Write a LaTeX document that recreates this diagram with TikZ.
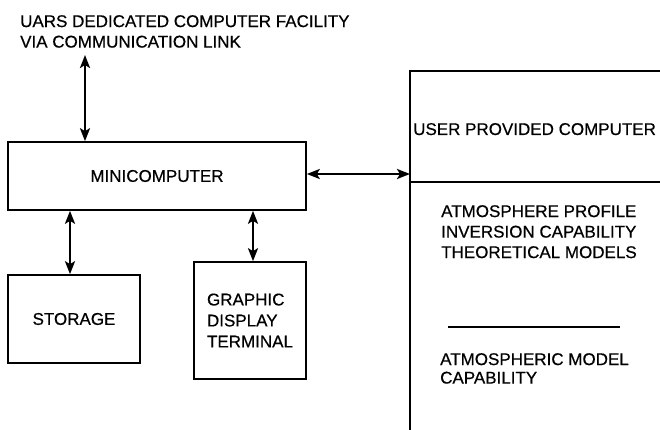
\documentclass[tikz,border=0pt]{standalone}
\usepackage{fontspec}
\setmainfont{Liberation Sans}[FakeBold=0.5]
\usetikzlibrary{arrows.meta}
\begin{document}
\begin{tikzpicture}[x=1pt,y=-1pt,
  box/.style={draw,line width=1.6pt,rectangle,inner sep=0pt},
  txt/.style={inner sep=0pt,font=\fontsize{17}{20.5}\selectfont},
  link/.style={line width=2.4pt,{Stealth[length=13pt,width=10pt,inset=3pt]}-{Stealth[length=13pt,width=10pt,inset=3pt]}},
  rule/.style={line width=1.6pt}]
\useasboundingbox (0,0) rectangle (660,430);
% title
\node[txt,anchor=north west,align=left] (title) at (20,15)
  {UARS DEDICATED COMPUTER FACILITY\\VIA COMMUNICATION LINK};
\coordinate (linktop) at (85,55);
% boxes
\node[box,minimum width=298pt,minimum height=68pt,font=\fontsize{17}{20.5}\selectfont] (mini) at (157,176) {MINICOMPUTER};
\node[box,minimum width=132pt,minimum height=88pt,font=\fontsize{17}{20.5}\selectfont] (storage) at (74,319) {STORAGE};
\node[box,minimum width=112pt,minimum height=117pt,align=left,font=\fontsize{17}{21}\selectfont] (graphic) at (250,320.5) {GRAPHIC\\DISPLAY\\TERMINAL};
% right (user computer) box, open to the right and bottom
\coordinate (ubtl) at (410,71);
\coordinate (ubtr) at (662,71);
\coordinate (ubbl) at (410,432);
\coordinate (ubdl) at (410,182);
\coordinate (ubdr) at (662,182);
\draw[rule] (ubtr) -- (ubtl) -- (ubbl);
\draw[rule] (ubdl) -- (ubdr);
\coordinate (sepl) at (448,327);
\coordinate (sepr) at (620,327);
\draw[line width=1.2pt] (sepl) -- (sepr);
\node[txt,anchor=base west] (upc) at (413,135) {USER PROVIDED COMPUTER};
\node[txt,anchor=north west,align=left] (atmprof) at (441,205)
  {ATMOSPHERE PROFILE\\INVERSION CAPABILITY\\THEORETICAL MODELS};
\node[txt,anchor=north west,align=left,font=\fontsize{17}{18.5}\selectfont] (atmmod) at (440,353)
  {ATMOSPHERIC MODEL\\CAPABILITY};
% connectors
\draw[link] (linktop) -- (mini.north -| linktop);
\draw[link] (mini.south -| 70,0) -- (storage.north -| 70,0);
\draw[link] (mini.south -| 253,0) -- (graphic.north -| 253,0);
\draw[link] (mini.east |- 0,174) -- (ubtl |- 0,174);
\end{tikzpicture}
\end{document}
